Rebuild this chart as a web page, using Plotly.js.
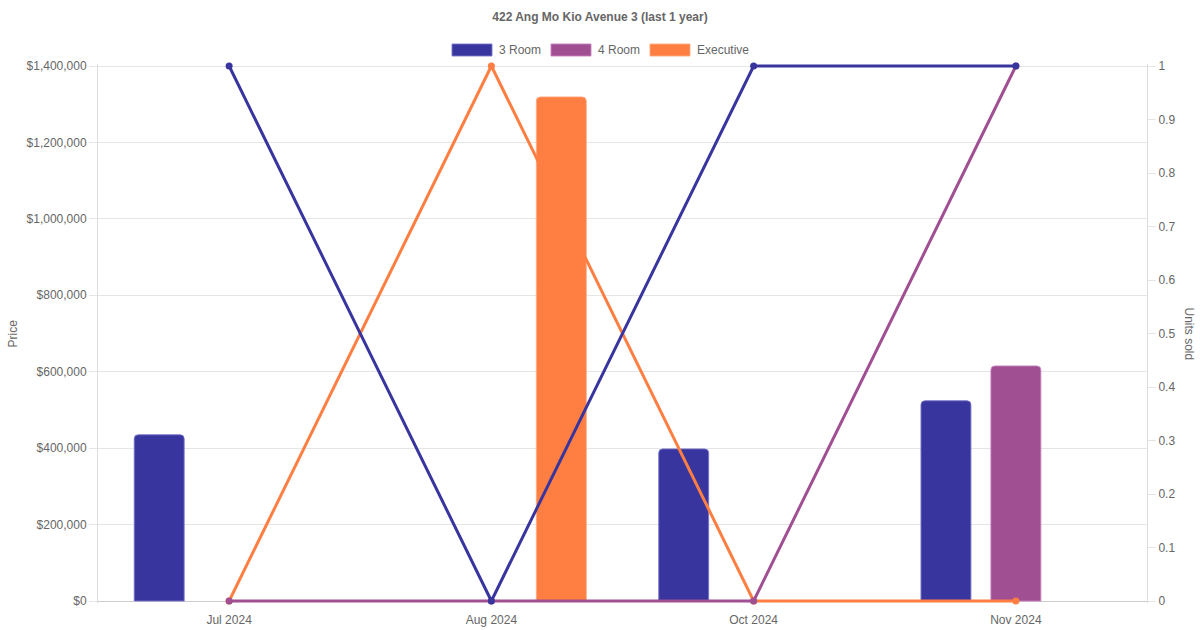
<!DOCTYPE html>
<html>
<head>
<meta charset="utf-8">
<script src="https://cdn.plot.ly/plotly-3.0.1.min.js"></script>
<style>
  html, body { margin: 0; padding: 0; background: #fff; }
  #chart { width: 1200px; height: 630px; }
</style>
</head>
<body>
<div id="chart"></div>
<script>
// ---- Data ----
var months = ["Jul 2024", "Aug 2024", "Oct 2024", "Nov 2024"];
var flatTypes = ["3 Room", "4 Room", "Executive"];
var price3Room = [435000, null, 398000, 524000];
var price4Room = [null, null, null, 615000];
var priceExec = [null, 1319000, null, null];
var units3Room = [1, 0, 1, 1];
var units4Room = [0, 0, 0, 1];
var unitsExec = [0, 1, 0, 0];
var chartTitle = "422 Ang Mo Kio Avenue 3 (last 1 year)";

// ---- Styles ----
var colors = ["rgb(57,53,159)", "rgb(159,79,146)", "rgb(255,127,66)"];
var borders = ["rgba(120,117,200,0.9)", "rgba(200,130,190,0.9)", "rgba(255,170,130,0.9)"];
var fontFam = "Liberation Sans, Arial, Helvetica, sans-serif";
var prices = [price3Room, price4Room, priceExec];
var units = [units3Room, units4Room, unitsExec];
var priceMax = 1400000, unitsMax = 1;

var traces = [];
flatTypes.forEach(function (name, i) {
  traces.push({
    type: "bar", name: name, x: months, y: prices[i],
    yaxis: "y", showlegend: false, hoverinfo: "x+y+name",
    marker: { color: colors[i], line: { color: borders[i], width: 1 }, cornerradius: 4 }
  });
});
// lines: drawn so that the first series ends up on top
for (var i = flatTypes.length - 1; i >= 0; i--) {
  traces.push({
    type: "scatter", mode: "lines+markers", name: flatTypes[i], x: months, y: units[i],
    yaxis: "y2", showlegend: false, cliponaxis: false,
    line: { color: colors[i], width: 3 },
    marker: { color: colors[i], size: 7 }
  });
}

// ---- Geometry (pixels) ----
var plotL = 98, plotR = 1147, plotT = 66, plotB = 601, padPx = 2;
var innerH = plotB - plotT;
function px2x(p) { return (p - plotL) / (plotR - plotL); }
function px2y(p) { return (plotB + padPx - p) / (innerH + 2 * padPx); }

// ---- Custom legend (swatches + labels) ----
var legendStart = [452, 551, 650];
var shapes = [], annotations = [];
flatTypes.forEach(function (name, i) {
  var x0 = legendStart[i];
  shapes.push({
    type: "rect", xref: "paper", yref: "paper",
    x0: px2x(x0), x1: px2x(x0 + 40), y0: px2y(56), y1: px2y(44),
    fillcolor: colors[i], line: { color: borders[i], width: 1 }
  });
  annotations.push({
    xref: "paper", yref: "paper", x: px2x(x0 + 45), y: px2y(50),
    xanchor: "left", yanchor: "middle", showarrow: false, text: name,
    font: { family: fontFam, size: 12, color: "#666" }
  });
});
annotations.push({
  xref: "paper", yref: "paper", x: px2x(12), y: 0.5, textangle: -90,
  showarrow: false, text: "Price", xanchor: "center", yanchor: "middle",
  font: { family: fontFam, size: 12, color: "#666" }
});
annotations.push({
  xref: "paper", yref: "paper", x: px2x(1189), y: 0.5, textangle: 90,
  showarrow: false, text: "Units sold", xanchor: "center", yanchor: "middle",
  font: { family: fontFam, size: 12, color: "#666" }
});

var padY = priceMax * padPx / innerH, padY2 = unitsMax * padPx / innerH;

var layout = {
  width: 1200, height: 630,
  margin: { l: plotL, r: 1200 - plotR, t: plotT - padPx, b: 630 - plotB - padPx, pad: 0 },
  paper_bgcolor: "#fff", plot_bgcolor: "#fff",
  font: { family: fontFam, size: 12, color: "#666" },
  title: {
    text: "<b>" + chartTitle + "</b>", x: 0.5, xanchor: "center",
    y: 1 - 17 / 630, yanchor: "middle", yref: "container",
    font: { family: fontFam, size: 12, color: "#666" }
  },
  barmode: "group", bargap: 0.2, bargroupgap: 0.286,
  showlegend: false,
  xaxis: {
    type: "category", range: [-0.5, 3.5], showgrid: false, zeroline: false,
    showline: false,
    ticks: "outside", ticklen: 6, tickcolor: "rgba(0,0,0,0)",
    tickfont: { family: fontFam, size: 12, color: "#666" }, fixedrange: true
  },
  yaxis: {
    range: [-padY, priceMax + padY], dtick: 200000, tick0: 0, tickprefix: "$", tickformat: ",d",
    showgrid: true, gridcolor: "#e5e5e5", gridwidth: 1,
    zeroline: true, zerolinecolor: "#ccc", zerolinewidth: 1,
    showline: true, linecolor: "#ddd", linewidth: 1,
    ticks: "outside", ticklen: 8, tickcolor: "#e5e5e5",
    tickfont: { family: fontFam, size: 12, color: "#666" }, fixedrange: true
  },
  yaxis2: {
    overlaying: "y", side: "right", range: [-padY2, unitsMax + padY2], dtick: 0.1, tick0: 0,
    showgrid: false, zeroline: false,
    showline: true, linecolor: "#ddd", linewidth: 1,
    ticks: "outside", ticklen: 8, tickcolor: "#e5e5e5",
    tickfont: { family: fontFam, size: 12, color: "#666" }, fixedrange: true
  },
  shapes: shapes,
  annotations: annotations
};

Plotly.newPlot("chart", traces, layout, { displayModeBar: false, staticPlot: true });
</script>
</body>
</html>
